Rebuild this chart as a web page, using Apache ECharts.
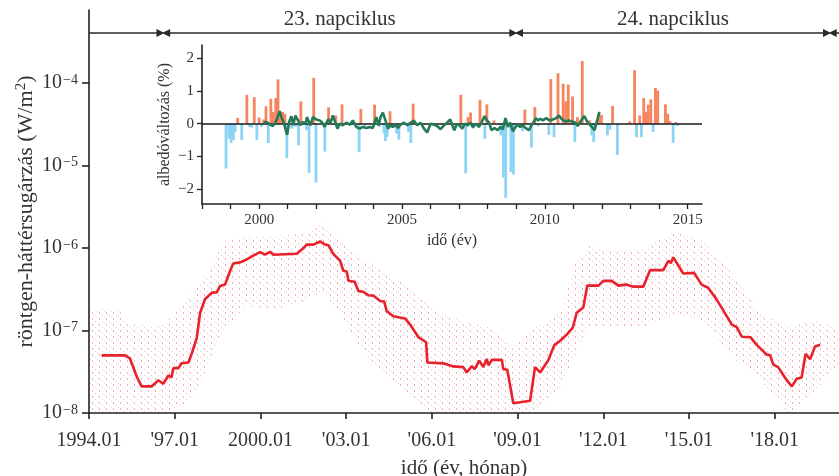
<!DOCTYPE html>
<html><head><meta charset="utf-8">
<script src="https://cdn.jsdelivr.net/npm/echarts@6/dist/echarts.min.js"></script>
<style>html,body{margin:0;padding:0;background:#fff}#c{width:839px;height:476px}</style>
</head><body><div id="c"></div>
<script>
// ---- main chart: monthly running mean of X-ray background (W/m^2)
const mainYears = [1994.44,1995.26,1995.43,1995.67,1995.84,1996.19,1996.43,1996.6,1996.78,1996.89,1996.95,1997.13,1997.24,1997.48,1997.6,1997.77,1997.89,1998.06,1998.3,1998.47,1998.59,1998.76,1998.94,1999.05,1999.29,1999.46,1999.75,1999.99,2000.16,2000.34,2000.45,2001.27,2001.5,2001.62,2001.85,2002.09,2002.26,2002.38,2002.55,2002.79,2002.9,2003.02,2003.08,2003.3,2003.43,2003.6,2003.78,2003.95,2004.19,2004.33,2004.42,2004.65,2005.06,2005.24,2005.53,2005.8,2005.84,2006.4,2006.62,2006.75,2007.1,2007.22,2007.4,2007.5,2007.66,2007.8,2007.92,2007.98,2008.1,2008.45,2008.5,2008.64,2008.85,2009.44,2009.61,2009.79,2010.08,2010.28,2010.49,2010.72,2010.93,2011.07,2011.3,2011.44,2011.83,2012.0,2012.29,2012.53,2012.8,2013.05,2013.4,2013.64,2014.1,2014.28,2014.37,2014.45,2014.5,2014.8,2015.18,2015.44,2015.67,2015.96,2016.5,2016.67,2016.85,2017.15,2017.37,2017.72,2017.84,2017.95,2018.12,2018.42,2018.6,2018.77,2018.94,2019.08,2019.24,2019.41,2019.59];
const mainValues = [5.0e-8,5.0e-8,4.6e-8,2.77e-8,2.1e-8,2.1e-8,2.5e-8,2.26e-8,2.85e-8,2.7e-8,3.5e-8,3.5e-8,4.0e-8,4.1e-8,5.3e-8,8.1e-8,1.64e-7,2.39e-7,2.88e-7,2.9e-7,3.47e-7,3.6e-7,5.3e-7,6.5e-7,6.7e-7,7.1e-7,8.1e-7,8.9e-7,8.3e-7,9.0e-7,8.3e-7,8.5e-7,9.9e-7,1.1e-6,1.1e-6,1.2e-6,1.1e-6,1.08e-6,8.5e-7,7.0e-7,5.3e-7,5.2e-7,4.0e-7,3.9e-7,3.0e-7,2.95e-7,2.67e-7,2.65e-7,2.28e-7,2.25e-7,1.72e-7,1.49e-7,1.4e-7,1.18e-7,8.3e-8,7.2e-8,4.1e-8,4.0e-8,3.8e-8,3.67e-8,3.6e-8,3.1e-8,3.7e-8,3.4e-8,4.3e-8,3.6e-8,4.5e-8,3.8e-8,4.4e-8,4.4e-8,3.4e-8,3.35e-8,1.31e-8,1.41e-8,3.6e-8,3.1e-8,4.4e-8,6.6e-8,7.5e-8,8.9e-8,1.08e-7,1.64e-7,1.9e-7,3.5e-7,3.5e-7,4.0e-7,4.0e-7,3.5e-7,3.6e-7,3.4e-7,3.4e-7,5.4e-7,5.4e-7,7.0e-7,6.6e-7,7.7e-7,7.4e-7,4.9e-7,5.0e-7,3.6e-7,3.3e-7,2.4e-7,1.18e-7,1.1e-7,8.4e-8,8.3e-8,6.7e-8,5.1e-8,5.0e-8,3.85e-8,3.6e-8,2.5e-8,2.1e-8,2.6e-8,2.7e-8,5.2e-8,4.5e-8,6.4e-8,6.7e-8];
// envelope of the daily-value dot cloud
const envYears = [1994.0,1995.0,1995.5,1996.5,1997.3,1997.8,1998.2,1998.7,1999.5,2000.5,2001.5,2002.2,2002.8,2003.5,2004.3,2005.2,2006.0,2007.0,2008.0,2008.8,2009.2,2009.6,2010.0,2010.5,2011.0,2011.5,2012.5,2013.5,2014.5,2015.5,2016.5,2017.5,2018.5,2019.5,2020.25];
const envUpper = [1.8e-7,1.8e-7,1.2e-7,1.1e-7,2.0e-7,3.5e-7,5e-7,1.2e-6,1.4e-6,1.4e-6,1.5e-6,2.0e-6,1.3e-6,8e-7,5e-7,3.4e-7,1.8e-7,1.3e-7,1.1e-7,6e-8,8e-8,1.1e-7,1.2e-7,1.7e-7,6.5e-7,1.05e-6,9e-7,1.0e-6,1.6e-6,1.2e-6,5e-7,1.6e-7,1.1e-7,1.35e-7,1.0e-7];
const envLower = [1e-8,1e-8,1e-8,1e-8,1.2e-8,2e-8,4e-8,1e-7,2e-7,1.8e-7,2.2e-7,3e-7,1.5e-7,6e-8,3e-8,1.6e-8,1e-8,1e-8,1e-8,1e-8,1e-8,1e-8,1.4e-8,2.1e-8,4.8e-8,1.1e-7,1.1e-7,1.1e-7,1.6e-7,1.3e-7,4.8e-8,2.5e-8,1e-8,2e-8,4e-8];
// ---- inset: albedo change (%)
const barYears = [1998.84,1998.94,1999.02,1999.10,1999.16,1999.25,1999.39,1999.57,1999.67,1999.74,1999.83,1999.92,2000.00,2000.08,2000.16,2000.24,2000.32,2000.41,2000.49,2000.58,2000.66,2000.74,2000.82,2000.90,2000.97,2001.14,2001.28,2001.38,2001.46,2001.66,2001.75,2001.91,2001.99,2002.30,2002.43,2002.68,2002.90,2003.20,2003.50,2003.56,2003.70,2004.04,2004.20,2004.37,2004.42,2004.48,2004.58,2004.81,2004.89,2005.23,2005.31,2005.39,2006.00,2007.06,2007.23,2007.31,2007.40,2007.49,2007.73,2007.90,2007.97,2008.22,2008.46,2008.55,2008.63,2008.81,2008.90,2009.22,2009.30,2009.53,2009.65,2009.77,2010.14,2010.21,2010.32,2010.46,2010.64,2010.73,2010.82,2010.97,2011.05,2011.14,2011.31,2011.56,2011.64,2011.71,2011.88,2011.98,2012.19,2012.28,2012.37,2012.54,2012.97,2013.14,2013.21,2013.32,2013.38,2013.46,2013.55,2013.62,2013.71,2013.79,2013.87,2013.95,2014.22,2014.30,2014.38,2014.49,2014.58,2014.65];
const barValues = [-1.37,-0.46,-0.59,-0.50,-0.25,0.18,-0.50,0.88,-0.10,-0.12,0.81,-0.50,0.19,-0.10,0.13,0.53,-0.59,0.76,0.36,0.78,1.35,0.20,0.36,0.30,-1.05,-0.15,-0.10,-0.66,0.68,-0.20,-1.50,1.40,-1.80,-0.85,0.50,0.25,0.59,-0.06,-0.87,0.45,-0.08,0.58,-0.10,-0.30,-0.53,-0.40,0.38,-0.30,-0.49,-0.25,-0.59,0.61,-0.05,0.88,-1.52,0.20,0.34,-0.15,0.73,-0.46,0.59,0.10,-0.36,-1.65,-2.26,-1.47,-1.55,-0.23,0.43,-0.73,0.51,-0.08,-0.34,1.36,-0.41,1.54,1.22,0.68,1.19,0.83,-0.56,0.20,1.91,0.10,-0.36,-0.56,0.30,0.27,-0.36,-0.18,0.54,-0.95,0.07,1.63,-0.41,0.25,-0.41,0.78,0.36,0.58,0.74,-0.25,1.09,1.01,0.59,0.30,0.08,-0.58,0.05,-0.07];
const trendYears = [2000.16,2000.26,2000.37,2000.47,2000.55,2000.63,2000.72,2000.78,2000.86,2000.93,2000.98,2001.05,2001.13,2001.19,2001.27,2001.36,2001.44,2001.53,2001.63,2001.67,2001.74,2001.80,2001.88,2002.00,2002.12,2002.21,2002.29,2002.41,2002.50,2002.58,2002.67,2002.74,2002.82,2002.93,2003.05,2003.17,2003.28,2003.40,2003.52,2003.63,2003.75,2003.87,2003.98,2004.04,2004.10,2004.18,2004.25,2004.33,2004.42,2004.51,2004.60,2004.68,2004.77,2004.86,2004.95,2005.07,2005.19,2005.30,2005.42,2005.53,2005.65,2005.77,2005.88,2006.00,2006.12,2006.23,2006.35,2006.47,2006.58,2006.69,2006.76,2006.83,2006.92,2007.01,2007.11,2007.19,2007.30,2007.39,2007.48,2007.60,2007.69,2007.78,2007.89,2007.97,2008.05,2008.13,2008.24,2008.35,2008.44,2008.53,2008.62,2008.71,2008.79,2008.88,2008.97,2009.05,2009.14,2009.23,2009.32,2009.44,2009.53,2009.61,2009.68,2009.76,2009.84,2009.93,2010.05,2010.16,2010.28,2010.40,2010.49,2010.60,2010.72,2010.84,2010.95,2011.07,2011.15,2011.27,2011.38,2011.50,2011.62,2011.74,2011.83,2011.91];
const trendValues = [0.03,0.05,-0.02,-0.07,0.00,0.15,0.38,0.20,0.03,-0.02,-0.34,0.05,0.23,-0.05,0.25,0.10,-0.05,0.05,0.00,0.20,0.25,-0.05,0.20,0.13,0.10,0.03,-0.10,0.13,0.03,0.25,0.03,-0.15,0.00,-0.05,0.03,-0.03,0.10,-0.10,-0.15,-0.10,-0.13,-0.10,-0.13,-0.18,0.20,-0.05,0.20,0.34,0.10,-0.15,-0.05,-0.10,-0.03,-0.13,-0.03,0.03,-0.05,0.03,0.09,-0.05,0.03,-0.15,-0.27,0.00,-0.03,-0.07,-0.17,-0.05,0.03,0.13,-0.05,-0.20,-0.01,-0.05,-0.15,0.00,-0.05,0.03,-0.10,0.00,-0.10,0.03,0.23,0.10,0.03,-0.20,-0.13,-0.20,-0.10,-0.17,0.17,-0.10,0.03,-0.23,-0.10,-0.03,-0.10,-0.05,-0.13,-0.20,-0.05,0.05,0.17,0.10,0.15,0.10,0.17,0.10,0.13,0.17,0.25,0.13,0.07,0.10,0.07,0.03,-0.07,0.10,0.23,0.03,-0.07,-0.20,0.10,0.36];
// ---- ticks / labels
const mainXTicks = [1994,1997,2000,2003,2006,2009,2012,2015,2018];
const mainXTickLabels = ['1994.01',"'97.01",'2000.01',"'03.01","'06.01","'09.01","'12.01","'15.01","'18.01"];
const mainYTicks = [1e-8,1e-7,1e-6,1e-5,1e-4];
const insetXTicks = [1998,1999,2000,2001,2002,2003,2004,2005,2006,2007,2008,2009,2010,2011,2012,2013,2014,2015];
const insetXLabels = [2000,2005,2010,2015];
const insetYTicks = [-2,-1,0,1,2];
const cycleBounds = [1994.0,1996.6,2008.95,2019.93,2020.25];
const cycleNames = ['','23. napciklus','24. napciklus',''];

const FONT = "'Liberation Serif','DejaVu Serif',serif";
const TXT = '#333';
const AX = '#222';

// dotted pattern for the dot cloud
const pc = document.createElement('canvas'); pc.width = 7; pc.height = 6;
const pg = pc.getContext('2d');
pg.fillStyle = 'rgba(232,55,85,0.42)'; pg.fillRect(1,0,1,2);
pg.fillStyle = 'rgba(232,55,85,0.30)'; pg.fillRect(4,3,1,1);
pg.fillStyle = 'rgba(232,55,85,0.22)'; pg.fillRect(6,5,1,1);

const yArrow = 4.05e-4;
const arrowSegs = [];
for (let i = 0; i < cycleBounds.length - 1; i++) {
  const a = cycleBounds[i] + (i === 0 ? 0 : 0.1);
  const b = cycleBounds[i+1] - (i === cycleBounds.length - 2 ? 0 : 0.1);
  const lab = cycleNames[i] ? {show:true, formatter: cycleNames[i], position:'insideMiddleTop', distance:3, fontFamily:FONT, fontSize:21, color:TXT} : {show:false};
  arrowSegs.push([
    {coord:[a, yArrow], symbol: i === 0 ? 'none' : 'triangle', label: lab},
    {coord:[b, yArrow], symbol: i === cycleBounds.length - 2 ? 'none' : 'triangle', label: lab}
  ]);
}

const chart = echarts.init(document.getElementById('c'));
chart.setOption({
  animation:false,
  backgroundColor:'#fff',
  grid:[
    {left:89, right:0, top:10, bottom:63, outerBoundsMode:'none', containLabel:false},
    {left:202, top:45, width:500, height:159, outerBoundsMode:'none', containLabel:false}
  ],
  xAxis:[
    {type:'value', gridIndex:0, min:1994, max:2020.25,
     axisLine:{onZero:false, lineStyle:{color:AX, width:1.6}},
     axisTick:{customValues:mainXTicks, length:6, lineStyle:{color:AX, width:1.6}},
     axisLabel:{customValues:mainXTicks, formatter:v => mainXTickLabels[mainXTicks.indexOf(Math.round(v))] || '', fontFamily:FONT, fontSize:20, color:TXT, margin:18},
     splitLine:{show:false},
     name:'idő (év, hónap)', nameLocation:'middle', nameGap:45, nameMoveOverlap:false,
     nameTextStyle:{fontFamily:FONT, fontSize:21, color:TXT}},
    {type:'value', gridIndex:1, min:1998, max:2015.5,
     axisLine:{onZero:false, lineStyle:{color:AX, width:1.6}},
     axisTick:{customValues:insetXTicks, length:5, lineStyle:{color:AX, width:1.3}},
     axisLabel:{customValues:insetXLabels, formatter:v => String(Math.round(v)), fontFamily:FONT, fontSize:15, color:TXT, margin:9},
     splitLine:{show:false},
     name:'idő (év)', nameLocation:'middle', nameGap:29, nameMoveOverlap:false,
     nameTextStyle:{fontFamily:FONT, fontSize:16, color:TXT}},
  ],
  yAxis:[
    {type:'log', logBase:10, gridIndex:0, min:1e-8, max:7.67e-4,
     axisLine:{show:true, onZero:false, lineStyle:{color:AX, width:1.6}},
     axisTick:{show:true, customValues:mainYTicks, length:7, lineStyle:{color:AX, width:1.6}},
     axisLabel:{customValues:mainYTicks, fontFamily:FONT, fontSize:20, color:TXT, margin:11,
       formatter:v => '{b|10}{s|−' + (-Math.round(Math.log10(v))) + '}',
       rich:{b:{fontFamily:FONT, fontSize:20, color:TXT, lineHeight:20, verticalAlign:'bottom'},
             s:{fontFamily:FONT, fontSize:14, color:TXT, lineHeight:14, verticalAlign:'top', padding:[0,0,10,1]}}},
     splitLine:{show:false},
     name:'{t|röntgen-háttérsugárzás (W/m}{s|2}{t|)}', nameLocation:'middle', nameGap:52, nameMoveOverlap:false,
     nameTextStyle:{fontFamily:FONT, fontSize:22, color:TXT,
       rich:{t:{fontFamily:FONT, fontSize:22, color:TXT, lineHeight:23, verticalAlign:'bottom'},
             s:{fontFamily:FONT, fontSize:15, color:TXT, lineHeight:15, verticalAlign:'top', padding:[0,0,10,0]}}}},
    {type:'value', gridIndex:1, min:-2.45, max:2.4,
     axisLine:{show:true, onZero:false, lineStyle:{color:AX, width:1.6}},
     axisTick:{show:true, customValues:insetYTicks, length:5, lineStyle:{color:AX, width:1.3}},
     axisLabel:{customValues:insetYTicks, fontFamily:FONT, fontSize:15, color:TXT, margin:8,
       formatter:v => v < 0 ? '−' + Math.abs(v) : String(v)},
     splitLine:{show:false},
     name:'albedóváltozás (%)', nameLocation:'middle', nameGap:29, nameMoveOverlap:false,
     nameTextStyle:{fontFamily:FONT, fontSize:16, color:TXT}}
  ],
  series:[
    {type:'custom', xAxisIndex:0, yAxisIndex:0, silent:true, z:1,
     data:[[envYears[0], envUpper[0]]],
     renderItem:(params, api) => {
       const pts = [];
       for (let i = 0; i < envYears.length; i++) pts.push(api.coord([envYears[i], envUpper[i]]));
       for (let i = envYears.length - 1; i >= 0; i--) pts.push(api.coord([envYears[i], envLower[i]]));
       return {type:'polygon', shape:{points:pts}, style:{fill:{image:pc, repeat:'repeat'}}};
     }},
    {type:'line', xAxisIndex:0, yAxisIndex:0, z:3, showSymbol:false, silent:true,
     data:mainYears.map((x,i) => [x, mainValues[i]]),
     lineStyle:{color:'#e8222b', width:2.6}, itemStyle:{color:'#e8222b'},
     markLine:{silent:true, symbolSize:8, lineStyle:{color:'#2a2a2a', width:1.5, type:'solid'},
       label:{show:false}, emphasis:{disabled:true}, data:arrowSegs}},
    {type:'bar', xAxisIndex:1, yAxisIndex:1, z:4, barWidth:2.8, silent:true,
     data:barYears.map((x,i) => [x, barValues[i]]),
     itemStyle:{color:p => p.value[1] >= 0 ? '#f5845f' : '#8bd4f5'},
     markLine:{silent:true, symbol:'none', lineStyle:{color:'#1a1a1a', width:1.6, type:'solid'},
       label:{show:false}, emphasis:{disabled:true}, data:[{yAxis:0}]}},
    {type:'line', xAxisIndex:1, yAxisIndex:1, z:6, showSymbol:false, silent:true,
     data:trendYears.map((x,i) => [x, trendValues[i]]),
     lineStyle:{color:'#237a55', width:2.6}, itemStyle:{color:'#237a55'}}
  ]
});
</script></body></html>
